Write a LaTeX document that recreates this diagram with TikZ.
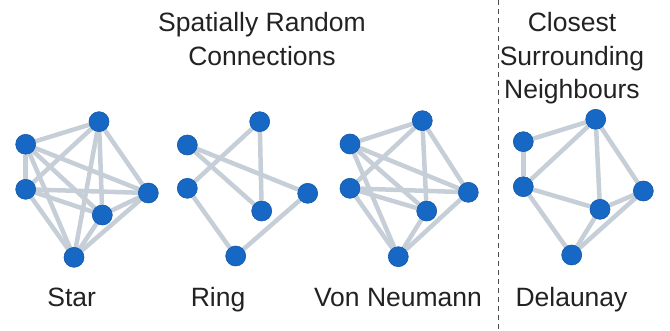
\documentclass[tikz,border=0pt]{standalone}
\usepackage{fontspec}
\setmainfont{Liberation Sans}
\usetikzlibrary{backgrounds}
\definecolor{nodeblue}{RGB}{22,104,196}
\definecolor{edgegrey}{RGB}{198,206,216}
\definecolor{txtgrey}{RGB}{34,34,34}
\tikzset{
	pt/.style={circle, fill=nodeblue, draw=nodeblue!85!black, line width=0.6pt, minimum size=20pt, inner sep=0pt},
	ln/.style={line width=4.5pt, color=edgegrey},
	lbl/.style={text=txtgrey, font=\fontsize{26.5}{33.5}\selectfont, inner sep=0pt, anchor=base},
	sep/.style={line width=1pt, color=txtgrey!80, dash pattern=on 5pt off 4pt}
}

\begin{document}
\begin{tikzpicture}[x=1pt, y=-1pt]
		%%%%% START %%%%%
		\useasboundingbox (0, 0) rectangle (670, 331);
		
		% titles (base = last line)
		\node[lbl, align=center] (tRandom) at (262, 65.5) {Spatially Random\\Connections};
		\node[lbl, align=center] (tClosest) at (572, 99) {Closest\\Surrounding\\Neighbours};
		
		% star
		\node[pt] (sA) at (99, 121.7) {};
		\node[pt] (sB) at (25.7, 144.3) {};
		\node[pt] (sC) at (25.7, 189.3) {};
		\node[pt] (sD) at (148.3, 193) {};
		\node[pt] (sE) at (102.3, 215) {};
		\node[pt] (sF) at (74, 257.3) {};
		
		% ring
		\node[pt] (rA) at (259.7, 121.7) {};
		\node[pt] (rB) at (187.3, 145) {};
		\node[pt] (rC) at (187.3, 188.3) {};
		\node[pt] (rD) at (307.7, 193.3) {};
		\node[pt] (rE) at (261.7, 211) {};
		\node[pt] (rF) at (235.7, 256) {};
		
		% von neumann
		\node[pt] (vA) at (422.3, 120.7) {};
		\node[pt] (vB) at (350, 144) {};
		\node[pt] (vC) at (350, 188.3) {};
		\node[pt] (vD) at (468.3, 192.3) {};
		\node[pt] (vE) at (426.7, 211) {};
		\node[pt] (vF) at (398.3, 256.7) {};
		
		% delaunay
		\node[pt] (dA) at (595.7, 119.3) {};
		\node[pt] (dB) at (523.3, 141.7) {};
		\node[pt] (dC) at (523.3, 186.7) {};
		\node[pt] (dD) at (643.3, 191) {};
		\node[pt] (dE) at (600, 209.3) {};
		\node[pt] (dF) at (571.7, 255) {};
		
		\begin{scope}[on background layer]
			\foreach \a/\b in {A/B, A/C, A/D, A/E, A/F, B/C, B/D, B/E, B/F, C/D, C/E, C/F, D/E, D/F, E/F}
				\draw[ln] (s\a) -- (s\b);
			\foreach \a/\b in {A/C, C/F, F/D, D/B, B/E, E/A}
				\draw[ln] (r\a) -- (r\b);
			\foreach \a/\b in {A/B, A/C, A/D, A/E, B/D, B/E, B/F, C/D, C/E, C/F, D/F, E/F}
				\draw[ln] (v\a) -- (v\b);
			\foreach \a/\b in {A/B, A/C, A/D, A/E, B/C, C/E, C/F, D/E, D/F, E/F}
				\draw[ln] (d\a) -- (d\b);
		\end{scope}
		
		% names
		\node[lbl] (tStar) at (71.7, 307) {Star};
		\node[lbl] (tRing) at (218, 307) {Ring};
		\node[lbl] (tVon) at (398, 307) {Von Neumann};
		\node[lbl] (tDel) at (571.5, 307) {Delaunay};
		
		\coordinate (sepTop) at (498, 0);
		\coordinate (sepBot) at (498, 331);
		\draw[sep] (sepTop) -- (sepBot);
		
		%%%%% END %%%%%
	\end{tikzpicture}
\end{document}
